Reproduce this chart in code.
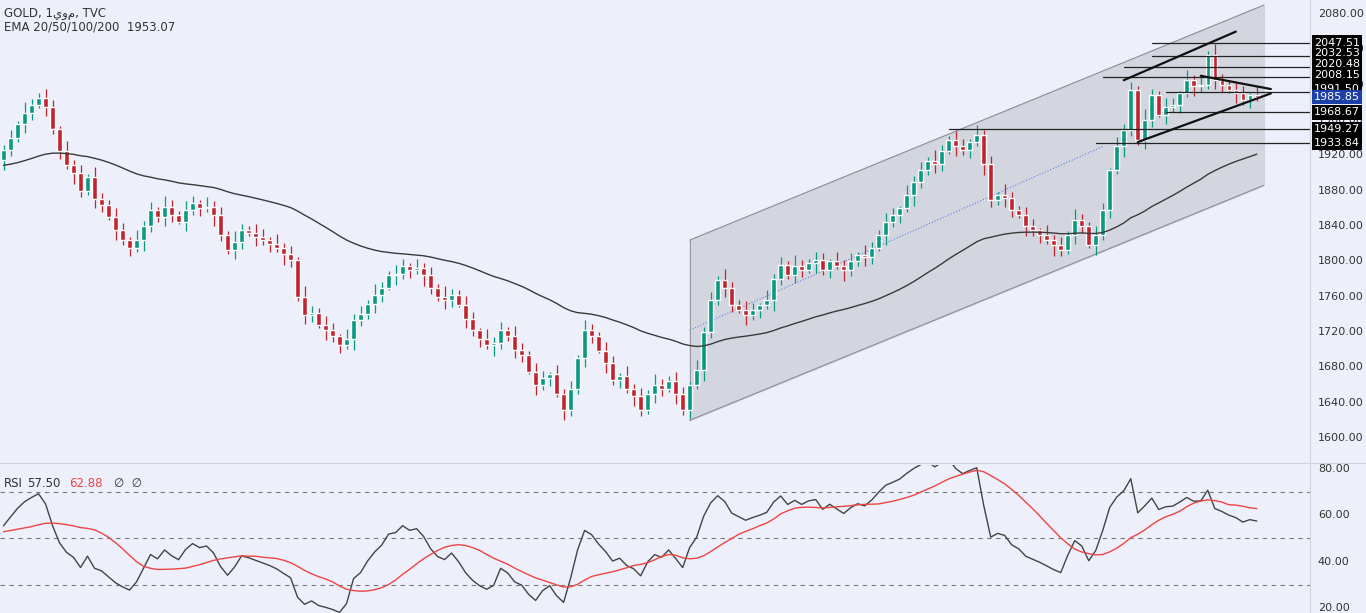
import numpy as np, pandas as pd, seaborn as sns, matplotlib
matplotlib.use("Agg")
import matplotlib.pyplot as plt

closes = [1926,1940,1955,1968,1977,1985,1975,1950,1925,1909,
          1900,1880,1895,1870,1864,1850,1835,1824,1815,1824,
          1840,1858,1850,1862,1852,1845,1858,1866,1860,1862,
          1852,1830,1813,1822,1835,1832,1828,1824,1820,1815,
          1808,1801,1760,1739,1742,1728,1722,1715,1705,1712,
          1734,1740,1752,1762,1770,1784,1786,1795,1790,1792,
          1784,1770,1760,1756,1762,1751,1735,1722,1712,1705,
          1708,1722,1715,1700,1694,1675,1660,1668,1672,1650,
          1632,1655,1690,1722,1715,1699,1685,1666,1670,1655,
          1648,1632,1650,1660,1655,1665,1650,1632,1660,1677,
          1720,1756,1779,1770,1751,1745,1739,1745,1750,1756,
          1780,1796,1785,1795,1790,1798,1801,1790,1800,1795,
          1790,1800,1807,1805,1815,1830,1845,1852,1860,1875,
          1890,1903,1914,1910,1925,1937,1930,1926,1935,1943,
          1910,1869,1875,1872,1858,1852,1840,1835,1830,1824,
          1818,1813,1830,1847,1840,1818,1830,1858,1903,1930,
          1949,1994,1937,1960,1988,1966,1975,1977,1990,2005,
          1999,2000,2034,2005,2000,1994,1990,1983,1988,1986]
first_open = 1915
ema_seed = 1908
rsi_seed_gain = 6.0
rsi_seed_loss = 5.5
rsi_ma_seed = [52, 55, 58, 60, 58, 56, 54, 52, 50, 49, 48, 47, 46]
wicks = [6, 9, 4, 12, 7, 5, 10, 8, 3, 11]
price_ticks = [1600,1640,1680,1720,1760,1800,1840,1880,1920,1960,2000,2040,2080]
level_values = [2047.51,2032.53,2020.48,2008.15,1991.50,1968.67,1949.27,1933.84]
level_starts = [164,164,160,157,166,166,135,156]
level_labels = ["2047.51","2032.53","2020.48","2008.15","1991.50","1985.85","1968.67","1949.27","1933.84"]
label_values = [2047.51,2035.5,2023.0,2011.0,1994.5,1985.85,1968.67,1949.27,1933.84]
channel_x = [98, 180]
channel_top = [1824, 2090]
channel_bot = [1620, 1886]
tri_lines = [((160,2005),(176,2060)), ((162,1935),(181,1990)), ((171,2010),(181,1995))]
rsi_ticks = [20,40,60,80]

bg = "#edf0fa"
df = pd.DataFrame({"x": np.arange(len(closes)), "close": closes})
df["open"] = [first_open] + closes[:-1]
w = [wicks[i % len(wicks)] for i in range(len(closes))]
df["high"] = df[["open","close"]].max(axis=1) + w
df["low"] = df[["open","close"]].min(axis=1) - [wicks[(i+3) % len(wicks)] for i in range(len(closes))]

k = 2/51
ema, e = [], ema_seed
for c in closes:
    e = e + k*(c-e); ema.append(e)
df["ema"] = ema
g, l, rsi = rsi_seed_gain, rsi_seed_loss, []
prev = first_open
for c in closes:
    d = c - prev; prev = c
    g = (g*13 + max(d, 0))/14; l = (l*13 + max(-d, 0))/14
    rsi.append(100 - 100/(1+g/l))
df["rsi"] = rsi
ext = pd.Series(rsi_ma_seed + rsi)
df["rsi_ma"] = ext.rolling(14, min_periods=1).mean().iloc[len(rsi_ma_seed):].values

sns.set_theme(style="white")
plt.rcParams['font.family'] = ['DejaVu Sans']
fig = plt.figure(figsize=(13.66, 6.13), dpi=100, facecolor=bg)
W, H = 1366, 613
ax = fig.add_axes([0, 1-462/H, 1310/W, 462/H], facecolor=bg)
ax2 = fig.add_axes([0, 0, 1310/W, 148/H], facecolor=bg)
xl = (-0.5, 186.6)

ax.fill_between(channel_x, channel_bot, channel_top, color="#d2d4dc", alpha=0.9, zorder=1)
ax.plot(channel_x, channel_top, color="#8a8d96", lw=0.8, zorder=2)
ax.plot(channel_x, channel_bot, color="#8a8d96", lw=0.8, zorder=2)
ax.plot([channel_x[0], 157], [(channel_top[0]+channel_bot[0])/2, 1930], color="#5b7fe0", lw=0.8, ls=":", zorder=2)
ax.plot([channel_x[0], channel_x[0]], [channel_bot[0], channel_top[0]], color="#8a8d96", lw=0.6)

for v, s in zip(level_values, level_starts):
    ax.plot([s, xl[1]], [v, v], color="#222", lw=0.9, zorder=4)
for (a, b) in tri_lines:
    ax.plot([a[0], b[0]], [a[1], b[1]], color="#111", lw=1.6, zorder=4)

colors = np.where(df["close"] >= df["open"], "#089981", "#c2242f")
ax.vlines(df["x"], df["low"], df["high"], colors=colors, lw=0.9, zorder=3)
ax.bar(df["x"], (df["close"]-df["open"]).abs().clip(lower=0.8),
       bottom=df[["open","close"]].min(axis=1), width=0.65, color=colors, zorder=3)
sns.lineplot(data=df, x="x", y="ema", ax=ax, color="#3a3a3a", lw=1.0, zorder=3)

ax.set_xlim(*xl); ax.set_ylim(1572.8, 2095.8)
ax.set_xticks([]); ax.set_yticks([])
ax.set_xlabel(""); ax.set_ylabel("")
for sp in ax.spines.values(): sp.set_visible(False)
for t in price_ticks:
    ax.text(1.006, t, f"{t:.2f}", transform=ax.get_yaxis_transform(), fontsize=8, color="#333", va="center", ha="left")
for lab, v in zip(level_labels, label_values):
    fc = "#1d3fa8" if lab == "1985.85" else "black"
    ax.text(1.003, v, lab, transform=ax.get_yaxis_transform(), fontsize=8, color="white",
            va="center", ha="left", bbox=dict(boxstyle="square,pad=0.2", fc=fc, ec="none"), zorder=10, clip_on=False)
ax.text(0.003, 0.985, "GOLD, 1يوم, TVC", transform=ax.transAxes, fontsize=8.5, color="#333", va="top")
ax.text(0.003, 0.955, "EMA 20/50/100/200  1953.07", transform=ax.transAxes, fontsize=8.5, color="#333", va="top")
fig.add_artist(plt.Line2D([1310/W, 1310/W], [0, 1], color="#d0d3de", lw=0.8))
fig.add_artist(plt.Line2D([0, 1], [1-463/H, 1-463/H], color="#d0d3de", lw=0.8))

for lv in (30, 50, 70):
    ax2.axhline(lv, color="#777", lw=0.8, ls=(0, (4, 4)))
sns.lineplot(data=df, x="x", y="rsi", ax=ax2, color="#444", lw=1.0)
sns.lineplot(data=df, x="x", y="rsi_ma", ax=ax2, color="#ef4444", lw=1.0)
ax2.set_xlim(*xl); ax2.set_ylim(17.8, 81.7)
ax2.set_xticks([]); ax2.set_yticks([]); ax2.set_xlabel(""); ax2.set_ylabel("")
for sp in ax2.spines.values(): sp.set_visible(False)
for t in rsi_ticks:
    ax2.text(1.006, t, f"{t:.2f}", transform=ax2.get_yaxis_transform(), fontsize=8, color="#333", va="center")
last = df.iloc[-1]
ax2.text(0.003, 0.92, "RSI", transform=ax2.transAxes, fontsize=8.5, color="#333", va="top")
ax2.text(0.021, 0.92, f"{last['rsi']:.2f}", transform=ax2.transAxes, fontsize=8.5, color="#333", va="top")
ax2.text(0.053, 0.92, f"{last['rsi_ma']:.2f}", transform=ax2.transAxes, fontsize=8.5, color="#ef4444", va="top")
ax2.text(0.087, 0.92, "∅  ∅", transform=ax2.transAxes, fontsize=8.5, color="#333", va="top")
fig.savefig("out.png", dpi=100, facecolor=bg)
